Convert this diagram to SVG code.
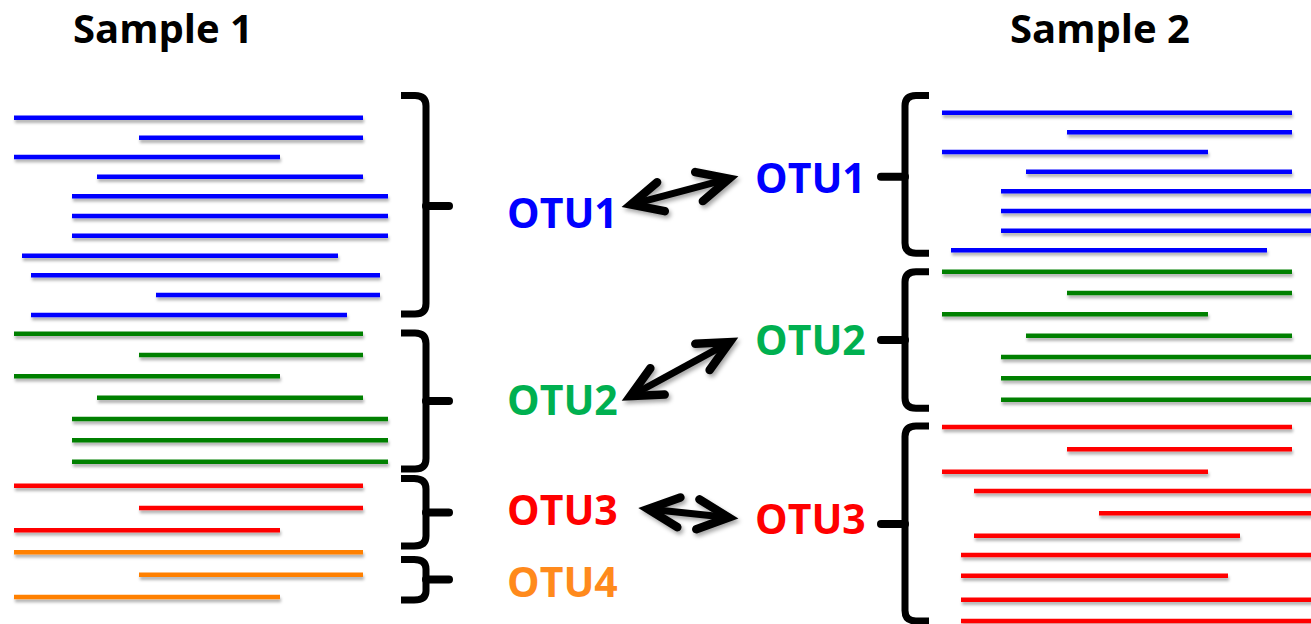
<svg xmlns="http://www.w3.org/2000/svg" width="1311" height="624" viewBox="0 0 1311 624">
  <defs>
    <filter id="shadow" x="-5%" y="-50%" width="110%" height="300%">
      <feDropShadow dx="1" dy="3" stdDeviation="1.5" flood-color="#000" flood-opacity="0.3"/>
    </filter>
    <filter id="arrowShadow" x="-20%" y="-40%" width="140%" height="180%">
      <feDropShadow dx="2" dy="3" stdDeviation="2" flood-color="#000" flood-opacity="0.35"/>
    </filter>
    <marker id="chevron" markerUnits="userSpaceOnUse" viewBox="-40 -24 50 48" markerWidth="50" markerHeight="48" refX="0" refY="0" orient="auto-start-reverse" overflow="visible">
      <path d="M-31,-15 L0,0 L-31,15" fill="none" stroke="#000" stroke-width="8.5" stroke-linecap="round" stroke-linejoin="miter"/>
    </marker>
  </defs>
  <style>
    .title { font-family: "Open Sans", "Liberation Sans", sans-serif; font-weight: 700; font-size: 40px; fill: #000; }
    .otu { font-family: "Open Sans", "Liberation Sans", sans-serif; font-weight: 700; font-size: 41px; }
    .reads line { stroke-width: 4.5; stroke-linecap: butt; }
    .blue line { stroke: #0000FF; }
    .green line { stroke: #008000; }
    .red line { stroke: #FF0000; }
    .orange line { stroke: #FF8000; }
    .brace path { fill: none; stroke: #000; stroke-width: 7; stroke-linecap: butt; stroke-linejoin: round; }
    .brace line { stroke: #000; stroke-width: 8; stroke-linecap: round; }
    .t-blue { fill: #0000FF; }
    .t-green { fill: #00B050; }
    .t-red { fill: #FF0000; }
    .t-orange { fill: #FF8A1C; }
    .arrow { fill: none; stroke: #000; stroke-width: 7; marker-start: url(#chevron); marker-end: url(#chevron); }
  </style>
  <rect width="1311" height="624" fill="#fff"/>

  <!-- Sample 1 -->
  <g id="sample1">
    <text class="title" x="73" y="43">Sample 1</text>
    <g id="sample1-reads" class="reads" filter="url(#shadow)">
      <g class="blue">
        <line x1="14" y1="117.7" x2="363" y2="117.7"/>
        <line x1="139" y1="137.7" x2="363" y2="137.7"/>
        <line x1="14" y1="157" x2="280" y2="157"/>
        <line x1="97" y1="176.7" x2="363" y2="176.7"/>
        <line x1="72" y1="196.3" x2="388" y2="196.3"/>
        <line x1="72" y1="216" x2="388" y2="216"/>
        <line x1="72" y1="235.7" x2="388" y2="235.7"/>
        <line x1="22" y1="255.7" x2="338" y2="255.7"/>
        <line x1="31" y1="275.3" x2="380" y2="275.3"/>
        <line x1="156" y1="295" x2="380" y2="295"/>
        <line x1="31" y1="315" x2="347" y2="315"/>
      </g>
      <g class="green">
        <line x1="14" y1="333.7" x2="363" y2="333.7"/>
        <line x1="139" y1="355" x2="363" y2="355"/>
        <line x1="14" y1="376.3" x2="280" y2="376.3"/>
        <line x1="97" y1="397.7" x2="363" y2="397.7"/>
        <line x1="72" y1="419" x2="388" y2="419"/>
        <line x1="72" y1="440.3" x2="388" y2="440.3"/>
        <line x1="72" y1="461.7" x2="388" y2="461.7"/>
      </g>
      <g class="red">
        <line x1="14" y1="485.7" x2="363" y2="485.7"/>
        <line x1="139" y1="508" x2="363" y2="508"/>
        <line x1="14" y1="530.3" x2="280" y2="530.3"/>
      </g>
      <g class="orange">
        <line x1="14" y1="552.3" x2="363" y2="552.3"/>
        <line x1="139" y1="574.7" x2="363" y2="574.7"/>
        <line x1="14" y1="597" x2="280" y2="597"/>
      </g>
    </g>
    <g id="sample1-braces" class="brace">
      <path d="M401,95.5 L415,95.5 Q426,95.5 426,106 L426,303.5 Q426,314 415,314 L401,314"/>
      <line x1="426" y1="206" x2="449" y2="206"/>
      <path d="M401,333 L415,333 Q426,333 426,343.5 L426,458.5 Q426,469 415,469 L401,469"/>
      <line x1="426" y1="401" x2="449" y2="401"/>
      <path d="M401,478.5 L414,478.5 Q426,478.5 426,489 L426,536 Q426,546 414,546 L401,546"/>
      <line x1="426" y1="512.5" x2="449" y2="512.5"/>
      <path d="M401,559.5 L414,559.5 Q426,559.5 426,569 L426,591 Q426,600 414,600 L401,600"/>
      <line x1="426" y1="579.5" x2="449" y2="579.5"/>
    </g>
  </g>

  <!-- OTU labels, sample 1 -->
  <g id="otu1-s1"><text class="otu t-blue" x="507" y="228">OTU1</text></g>
  <g id="otu2-s1"><text class="otu t-green" x="507" y="415">OTU2</text></g>
  <g id="otu3-s1"><text class="otu t-red" x="507" y="525">OTU3</text></g>
  <g id="otu4-s1"><text class="otu t-orange" x="507" y="597">OTU4</text></g>

  <!-- OTU labels, sample 2 -->
  <g id="otu1-s2"><text class="otu t-blue" x="755" y="193">OTU1</text></g>
  <g id="otu2-s2"><text class="otu t-green" x="755" y="355">OTU2</text></g>
  <g id="otu3-s2"><text class="otu t-red" x="755" y="534">OTU3</text></g>

  <!-- Sample 2 -->
  <g id="sample2">
    <text class="title" x="1010" y="43">Sample 2</text>
    <g id="sample2-reads" class="reads" filter="url(#shadow)">
      <g class="blue">
        <line x1="942" y1="112.7" x2="1292" y2="112.7"/>
        <line x1="1067" y1="132.3" x2="1292" y2="132.3"/>
        <line x1="942" y1="152" x2="1208" y2="152"/>
        <line x1="1026" y1="171.7" x2="1292" y2="171.7"/>
        <line x1="1001" y1="191.3" x2="1320" y2="191.3"/>
        <line x1="1001" y1="211" x2="1320" y2="211"/>
        <line x1="1001" y1="230.7" x2="1320" y2="230.7"/>
        <line x1="951" y1="250.3" x2="1267" y2="250.3"/>
      </g>
      <g class="green">
        <line x1="942" y1="271.7" x2="1292" y2="271.7"/>
        <line x1="1067" y1="293" x2="1292" y2="293"/>
        <line x1="942" y1="314.3" x2="1208" y2="314.3"/>
        <line x1="1026" y1="335.7" x2="1292" y2="335.7"/>
        <line x1="1001" y1="357" x2="1320" y2="357"/>
        <line x1="1001" y1="378.3" x2="1320" y2="378.3"/>
        <line x1="1001" y1="399.7" x2="1320" y2="399.7"/>
      </g>
      <g class="red">
        <line x1="942" y1="427" x2="1292" y2="427"/>
        <line x1="1067" y1="449.3" x2="1292" y2="449.3"/>
        <line x1="942" y1="471.7" x2="1208" y2="471.7"/>
        <line x1="974" y1="491" x2="1320" y2="491"/>
        <line x1="1099" y1="513.3" x2="1320" y2="513.3"/>
        <line x1="974" y1="535.7" x2="1240" y2="535.7"/>
        <line x1="961" y1="555" x2="1320" y2="555"/>
        <line x1="961" y1="575.7" x2="1228" y2="575.7"/>
        <line x1="961" y1="599.7" x2="1320" y2="599.7"/>
        <line x1="961" y1="621" x2="1320" y2="621"/>
      </g>
    </g>
    <g id="sample2-braces" class="brace">
      <path d="M929,95.5 L916,95.5 Q905,95.5 905,106 L905,243 Q905,253.3 916,253.3 L929,253.3"/>
      <line x1="905" y1="176.7" x2="881" y2="176.7"/>
      <path d="M929,271.7 L916,271.7 Q905,271.7 905,282 L905,398 Q905,408.3 916,408.3 L929,408.3"/>
      <line x1="905" y1="340" x2="881" y2="340"/>
      <path d="M929,426 L916,426 Q905,426 905,436.5 L905,610.5 Q905,621 916,621 L929,621"/>
      <line x1="905" y1="524" x2="881" y2="524"/>
    </g>
  </g>

  <!-- Correspondence arrows -->
  <g id="connectors" filter="url(#arrowShadow)">
    <line class="arrow" x1="631" y1="204.6" x2="729" y2="178.7"/>
    <line class="arrow" x1="630.3" y1="396.2" x2="729.7" y2="342.1"/>
    <line class="arrow" x1="648" y1="509.1" x2="728.7" y2="517.5"/>
  </g>
</svg>
